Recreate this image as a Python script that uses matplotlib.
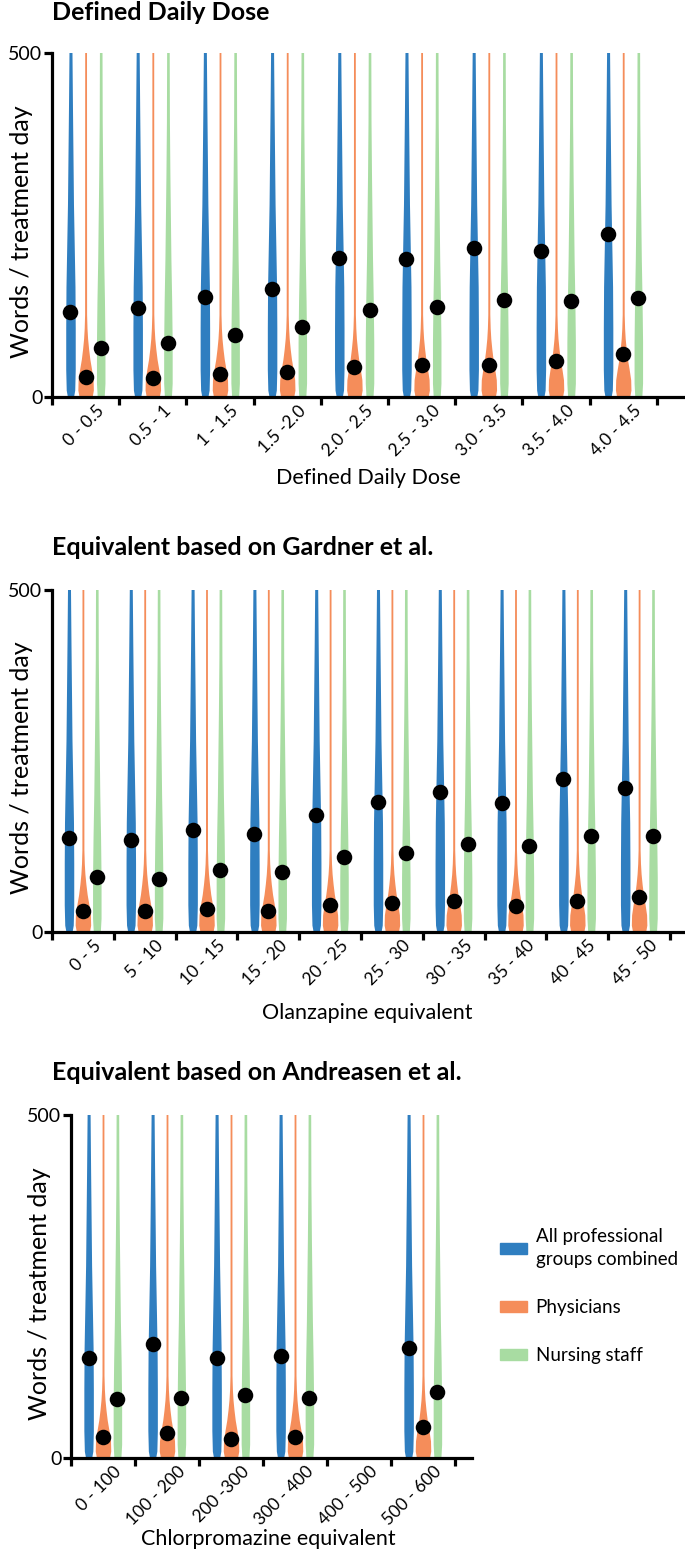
import numpy as np
import matplotlib
matplotlib.use("Agg")
import matplotlib.pyplot as plt
from matplotlib.patches import Patch
from matplotlib.transforms import ScaledTranslation

plt.rcParams['font.family'] = ['Lato', 'DejaVu Sans']

W, H = 685, 1556

# --- data ---
ddd_labels = ["0 - 0.5", "0.5 - 1", "1 - 1.5", "1.5 -2.0", "2.0 - 2.5",
              "2.5 - 3.0", "3.0 - 3.5", "3.5 - 4.0", "4.0 - 4.5"]
ddd_all = [124, 129, 145, 157, 202, 201, 217, 212, 237]
ddd_phys = [29, 28, 34, 36, 44, 47, 46, 52, 62]
ddd_nurse = [71, 78, 90, 102, 126, 131, 141, 140, 144]

olz_labels = ["0 - 5", "5 - 10", "10 - 15", "15 - 20", "20 - 25",
              "25 - 30", "30 - 35", "35 - 40", "40 - 45", "45 - 50"]
olz_all = [137, 134, 149, 143, 171, 190, 204, 188, 223, 210]
olz_phys = [30, 30, 33, 30, 39, 42, 45, 38, 45, 51]
olz_nurse = [81, 78, 90, 88, 110, 116, 129, 126, 141, 140]

cpz_labels = ["0 - 100", "100 - 200", "200 -300", "300 - 400", "400 - 500", "500 - 600"]
cpz_all = [146, 166, 146, 149, np.nan, 161]
cpz_phys = [31, 36, 27, 31, np.nan, 45]
cpz_nurse = [86, 88, 92, 87, np.nan, 96]

# rough violin outlines (value levels, full width in px)
blue_lv = [0, 10, 40, 100, 160, 220, 280, 350, 420, 500, 520]
blue_w = [6, 8.5, 9.5, 9.5, 9, 7.5, 6, 5, 4, 3, 3]
orange_lv = [0, 10, 25, 40, 55, 70, 85, 100, 120, 520]
orange_w = [13, 15.5, 15, 12, 8.5, 6, 4, 2.8, 2, 1.8]
green_lv = [0, 20, 80, 140, 200, 260, 320, 400, 520]
green_w = [7, 8.5, 8.5, 7.5, 6, 5, 4, 3, 2.5]

c_blue = "#2f7ec0"
c_orange = "#f58d5a"
c_green = "#a8dca2"
legend_names = ["All professional\ngroups combined", "Physicians", "Nursing staff"]

fig = plt.figure(figsize=(W / 100, H / 100), dpi=100)


def fx(px):
    return px / W


def fy(py):
    return 1 - py / H


def panel(left, right, top, bottom, xend, title, xlabel, xlab_x, ylab_x,
          labels, allv, phys, nurse):
    n = len(labels)
    step = (right - left) / n  # px per group
    ax = fig.add_axes([fx(left), fy(bottom), fx(xend - left), (bottom - top) / H])
    series = [(allv, blue_lv, blue_w, c_blue, -0.225),
              (phys, orange_lv, orange_w, c_orange, 0.0),
              (nurse, green_lv, green_w, c_green, 0.225)]
    for vals, lv, wd, col, off in series:
        half = np.array(wd) / step / 2
        for i, v in enumerate(vals):
            if np.isnan(v):
                continue
            x0 = i + off
            ax.fill_betweenx(lv, x0 - half, x0 + half, color=col, lw=0, zorder=2)
            ax.scatter([x0], [v], s=125, color="black", zorder=3, lw=0)

    ax.set_ylim(0, 500)
    ax.set_xlim(-0.5, -0.5 + (xend - left) / step)
    for s in ["top", "right"]:
        ax.spines[s].set_visible(False)
    for s in ["left", "bottom"]:
        ax.spines[s].set_linewidth(2.3)
    ax.set_yticks([0, 500])
    ax.tick_params(axis="y", length=6, width=2.3, labelsize=14, pad=1)
    ax.set_xticks(np.arange(n + 1) - 0.5)
    ax.set_xticklabels([])
    ax.tick_params(axis="x", which="major", length=6, width=2.3)
    ax.set_xticks(np.arange(n), minor=True)
    ax.set_xticklabels(labels, minor=True, rotation=45, ha="right", va="center",
                       rotation_mode="anchor", fontsize=12.5)
    ax.tick_params(axis="x", which="minor", length=0, pad=8)
    for lbl in ax.get_xticklabels(minor=True):
        lbl.set_transform(lbl.get_transform() + ScaledTranslation(16 / 100, 0, fig.dpi_scale_trans))

    fig.text(fx(52), fy(max(top - 35, 20)), title, fontsize=18, fontweight="bold",
             va="baseline", ha="left")
    fig.text(fx(xlab_x), fy(bottom + 81), xlabel, fontsize=15.5, ha="center", va="center")
    fig.text(fx(ylab_x), fy((top + bottom) / 2 + 7), "Words / treatment day", fontsize=18,
             rotation=90, ha="center", va="center")
    return ax


panel(52, 52 + 9 * 67.2, 53, 397, 685, "Defined Daily Dose", "Defined Daily Dose", 368, 22,
      ddd_labels, ddd_all, ddd_phys, ddd_nurse)
panel(52, 52 + 10 * 61.8, 590, 932, 685, "Equivalent based on Gardner et al.",
      "Olanzapine equivalent", 367, 22, olz_labels, olz_all, olz_phys, olz_nurse)
panel(71, 71 + 6 * 64, 1115, 1458, 472, "Equivalent based on Andreasen et al.",
      "Chlorpromazine equivalent", 268, 40, cpz_labels, cpz_all, cpz_phys, cpz_nurse)

handles = [Patch(color=c) for c in [c_blue, c_orange, c_green]]
leg = fig.legend(handles, legend_names, loc="upper left", bbox_to_anchor=(fx(500), fy(1228)),
                 frameon=False, fontsize=13.5, handlelength=1.45, handleheight=0.55,
                 labelspacing=1.65, handletextpad=0.45, borderpad=0, borderaxespad=0)
for t in leg.get_texts():
    t.set_linespacing(1.45)

fig.savefig("out.png", dpi=100)
